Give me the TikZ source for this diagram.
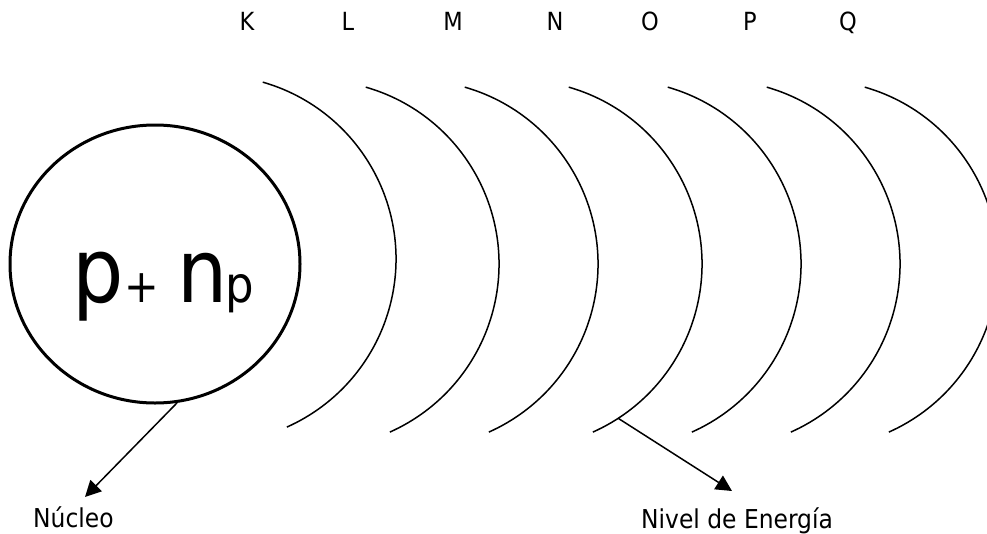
\documentclass[tikz,border=0pt]{standalone}
\usepackage{fontspec}
\setmainfont{DejaVu Sans Condensed}
\usetikzlibrary{arrows.meta,shapes.geometric}
\begin{document}
\begin{tikzpicture}[x=1pt,y=-1pt,
  orbit/.style={line width=1.5pt},
  shell/.style={anchor=base,inner sep=0pt,font=\fontsize{25}{25}\selectfont},
  caption/.style={anchor=base west,inner sep=0pt,font=\fontsize{26}{26}\selectfont},
  pointer/.style={line width=1.5pt,-{Triangle[length=16pt,width=16pt]}}]
\useasboundingbox (0,0) rectangle (987,533);
\clip (0,0) rectangle (987,533);

% nucleus
\node[ellipse,draw,line width=3pt,minimum width=290pt,minimum height=278pt,inner sep=0pt] (nuc) at (155,264) {};
\node[anchor=base west,inner sep=0pt] (comp) at (72,302)
  {{\fontsize{90}{90}\selectfont p}\hspace{1pt}{\fontsize{46}{46}\selectfont +}\hspace{18pt}{\fontsize{88}{88}\selectfont n}\hspace{-2pt}{\fontsize{50}{50}\selectfont p}};

% energy levels
\draw[orbit] (212,259) ++(-74:184) arc[start angle=-74,end angle=66,radius=184];
\foreach \cx in {315,414,518,617,716,814}
  \draw[orbit] (\cx,264) ++(-74:184) arc[start angle=-74,end angle=66,radius=184];

% shell letters
\node[shell] (K) at (247,30) {K};
\node[shell] (L) at (348,30) {L};
\node[shell] (M) at (453,30) {M};
\node[shell] (N) at (555,30) {N};
\node[shell] (O) at (650,30) {O};
\node[shell] (P) at (750,30) {P};
\node[shell] (Q) at (848,30) {Q};

% captions
\node[caption] (lnuc) at (33,527) {Núcleo};
\node[caption] (lniv) at (641,528) {Nivel de Energía};

\coordinate (tnuc) at (85,497);
\coordinate (tniv) at (732,491);
\path (518,264) ++(57:184) coordinate (eN);
\draw[pointer] (nuc.-81) -- (tnuc);
\draw[pointer] (eN) -- (tniv);
\end{tikzpicture}
\end{document}
